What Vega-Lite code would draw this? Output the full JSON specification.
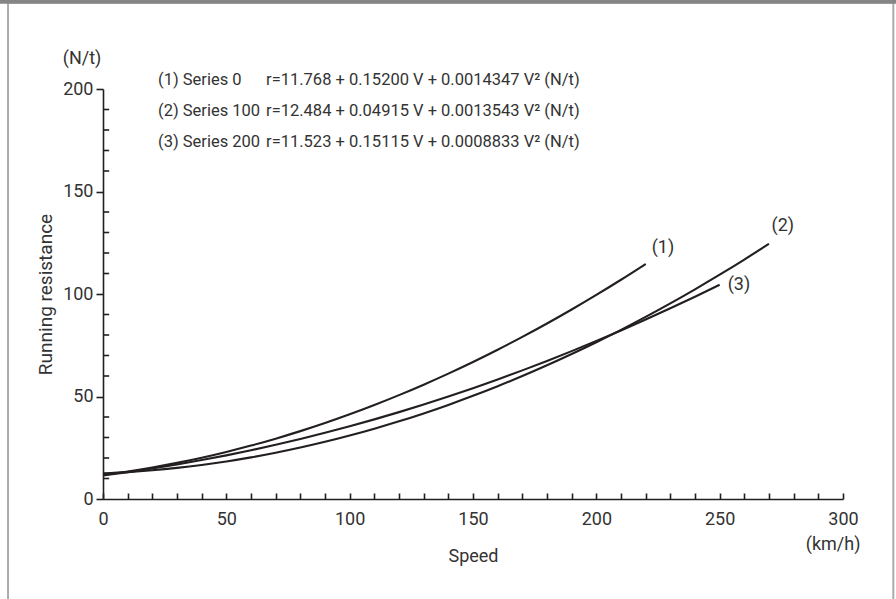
{
  "$schema": "https://vega.github.io/schema/vega-lite/v6.json",
  "width": 740,
  "height": 410,
  "autosize": {"type": "none"},
  "padding": {"left": 103, "top": 89, "right": 53, "bottom": 100},
  "background": "white",
  "config": {
    "view": {"stroke": null},
    "font": "Roboto",
    "axis": {
      "labelFont": "Roboto",
      "titleFont": "Roboto",
      "labelFontSize": 18,
      "titleFontSize": 18,
      "labelColor": "#333333",
      "titleColor": "#333333",
      "titleFontWeight": "normal",
      "domainColor": "#231f20",
      "domainWidth": 1.6,
      "tickColor": "#231f20",
      "tickWidth": 1.6,
      "grid": false
    },
    "text": {"font": "Roboto", "color": "#333333"}
  },
  "datasets": {
    "curves": [
      {"series": "1", "V": 0, "r": 11.768}, {"series": "1", "V": 10, "r": 13.431}, {"series": "1", "V": 20, "r": 15.382}, {"series": "1", "V": 30, "r": 17.619}, {"series": "1", "V": 40, "r": 20.144}, {"series": "1", "V": 50, "r": 22.955}, {"series": "1", "V": 60, "r": 26.053}, {"series": "1", "V": 70, "r": 29.438}, {"series": "1", "V": 80, "r": 33.110}, {"series": "1", "V": 90, "r": 37.069}, {"series": "1", "V": 100, "r": 41.315}, {"series": "1", "V": 110, "r": 45.848}, {"series": "1", "V": 120, "r": 50.668}, {"series": "1", "V": 130, "r": 55.774}, {"series": "1", "V": 140, "r": 61.168}, {"series": "1", "V": 150, "r": 66.849}, {"series": "1", "V": 160, "r": 72.816}, {"series": "1", "V": 170, "r": 79.071}, {"series": "1", "V": 180, "r": 85.612}, {"series": "1", "V": 190, "r": 92.441}, {"series": "1", "V": 200, "r": 99.556}, {"series": "1", "V": 210, "r": 106.958}, {"series": "1", "V": 220, "r": 114.648},
      {"series": "2", "V": 0, "r": 12.484}, {"series": "2", "V": 10, "r": 13.111}, {"series": "2", "V": 20, "r": 14.009}, {"series": "2", "V": 30, "r": 15.177}, {"series": "2", "V": 40, "r": 16.617}, {"series": "2", "V": 50, "r": 18.327}, {"series": "2", "V": 60, "r": 20.308}, {"series": "2", "V": 70, "r": 22.561}, {"series": "2", "V": 80, "r": 25.084}, {"series": "2", "V": 90, "r": 27.877}, {"series": "2", "V": 100, "r": 30.942}, {"series": "2", "V": 110, "r": 34.278}, {"series": "2", "V": 120, "r": 37.884}, {"series": "2", "V": 130, "r": 41.762}, {"series": "2", "V": 140, "r": 45.909}, {"series": "2", "V": 150, "r": 50.328}, {"series": "2", "V": 160, "r": 55.018}, {"series": "2", "V": 170, "r": 59.979}, {"series": "2", "V": 180, "r": 65.210}, {"series": "2", "V": 190, "r": 70.712}, {"series": "2", "V": 200, "r": 76.486}, {"series": "2", "V": 210, "r": 82.530}, {"series": "2", "V": 220, "r": 88.846}, {"series": "2", "V": 230, "r": 95.431}, {"series": "2", "V": 240, "r": 102.288}, {"series": "2", "V": 250, "r": 109.415}, {"series": "2", "V": 260, "r": 116.814}, {"series": "2", "V": 270, "r": 124.483},
      {"series": "3", "V": 0, "r": 11.523}, {"series": "3", "V": 10, "r": 13.123}, {"series": "3", "V": 20, "r": 14.899}, {"series": "3", "V": 30, "r": 16.853}, {"series": "3", "V": 40, "r": 18.982}, {"series": "3", "V": 50, "r": 21.289}, {"series": "3", "V": 60, "r": 23.772}, {"series": "3", "V": 70, "r": 26.432}, {"series": "3", "V": 80, "r": 29.268}, {"series": "3", "V": 90, "r": 32.281}, {"series": "3", "V": 100, "r": 35.471}, {"series": "3", "V": 110, "r": 38.838}, {"series": "3", "V": 120, "r": 42.381}, {"series": "3", "V": 130, "r": 46.101}, {"series": "3", "V": 140, "r": 49.997}, {"series": "3", "V": 150, "r": 54.070}, {"series": "3", "V": 160, "r": 58.319}, {"series": "3", "V": 170, "r": 62.745}, {"series": "3", "V": 180, "r": 67.349}, {"series": "3", "V": 190, "r": 72.128}, {"series": "3", "V": 200, "r": 77.085}, {"series": "3", "V": 210, "r": 82.219}, {"series": "3", "V": 220, "r": 87.528}, {"series": "3", "V": 230, "r": 93.015}, {"series": "3", "V": 240, "r": 98.677}, {"series": "3", "V": 250, "r": 104.517}
    ],
    "curveLabels": [
      {"label": "(1)", "V": 227, "r": 122.4},
      {"label": "(2)", "V": 275.6, "r": 133.2},
      {"label": "(3)", "V": 257.8, "r": 104.4}
    ],
    "legend": [
      {"name": "(1) Series 0", "formula": "r=11.768 + 0.15200 V + 0.0014347 V² (N/t)", "V": 22.3, "V2": 66.1, "r": 204.4},
      {"name": "(2) Series 100", "formula": "r=12.484 + 0.04915 V + 0.0013543 V² (N/t)", "V": 22.3, "V2": 66.1, "r": 189.3},
      {"name": "(3) Series 200", "formula": "r=11.523 + 0.15115 V + 0.0008833 V² (N/t)", "V": 22.3, "V2": 66.1, "r": 174.1}
    ],
    "units": [
      {"text": "(N/t)", "V": -8.5, "r": 214.5},
      {"text": "(km/h)", "V": 296, "r": -22.4}
    ],
    "yminor": [
      {"r": 10}, {"r": 20}, {"r": 30}, {"r": 40}, {"r": 60}, {"r": 70}, {"r": 80}, {"r": 90},
      {"r": 110}, {"r": 120}, {"r": 130}, {"r": 140}, {"r": 160}, {"r": 170}, {"r": 180}, {"r": 190}
    ],
    "frame": [
      {"V": -38.5, "V2": 320.4, "r": -60, "r2": 242.2}
    ],
    "topbar": [
      {"V": -50, "V2": 330, "r": 241.6, "r2": 246}
    ]
  },
  "layer": [
    {
      "data": {"name": "curves"},
      "mark": {"type": "line", "color": "#231f20", "strokeWidth": 2.1, "interpolate": "monotone"},
      "encoding": {
        "x": {
          "field": "V", "type": "quantitative",
          "scale": {"domain": [0, 300], "nice": false, "zero": false},
          "axis": {
            "title": "Speed",
            "values": [0,10,20,30,40,50,60,70,80,90,100,110,120,130,140,150,160,170,180,190,200,210,220,230,240,250,260,270,280,290,300],
            "tickCount": 40,
            "labelExpr": "datum.value % 50 === 0 ? datum.label : ''",
            "tickSize": -6,
            "labelPadding": 17,
            "titlePadding": 19,
            "labelFlush": false,
            "labelOverlap": false
          }
        },
        "y": {
          "field": "r", "type": "quantitative",
          "scale": {"domain": [0, 200], "nice": false, "zero": false},
          "axis": {
            "title": "Running resistance",
            "titleFontSize": 19,
            "values": [0, 50, 100, 150, 200],
            "tickCount": 10,
            "tickSize": 7,
            "labelPadding": 3,
            "titlePadding": 7,
            "labelFlush": false,
            "labelOverlap": false
          }
        },
        "detail": {"field": "series", "type": "nominal"}
      }
    },
    {
      "data": {"name": "frame"},
      "mark": {"type": "rect", "fill": null, "stroke": "#ababab", "strokeWidth": 2, "clip": false},
      "encoding": {
        "x": {"field": "V", "type": "quantitative"},
        "x2": {"field": "V2"},
        "y": {"field": "r", "type": "quantitative"},
        "y2": {"field": "r2"}
      }
    },
    {
      "data": {"name": "topbar"},
      "mark": {"type": "rect", "fill": "#858585", "clip": false},
      "encoding": {
        "x": {"field": "V", "type": "quantitative"},
        "x2": {"field": "V2"},
        "y": {"field": "r", "type": "quantitative"},
        "y2": {"field": "r2"}
      }
    },
    {
      "data": {"name": "yminor"},
      "mark": {"type": "rule", "color": "#231f20", "strokeWidth": 1.6},
      "encoding": {
        "x": {"datum": 0, "type": "quantitative"},
        "x2": {"datum": 2.5},
        "y": {"field": "r", "type": "quantitative"}
      }
    },
    {
      "data": {"name": "curveLabels"},
      "mark": {"type": "text", "fontSize": 18, "align": "center", "baseline": "middle", "clip": false},
      "encoding": {
        "x": {"field": "V", "type": "quantitative"},
        "y": {"field": "r", "type": "quantitative"},
        "text": {"field": "label"}
      }
    },
    {
      "data": {"name": "legend"},
      "mark": {"type": "text", "fontSize": 16.5, "align": "left", "baseline": "middle", "clip": false},
      "encoding": {
        "x": {"field": "V", "type": "quantitative"},
        "y": {"field": "r", "type": "quantitative"},
        "text": {"field": "name"}
      }
    },
    {
      "data": {"name": "legend"},
      "mark": {"type": "text", "fontSize": 16.5, "align": "left", "baseline": "middle", "clip": false},
      "encoding": {
        "x": {"field": "V2", "type": "quantitative"},
        "y": {"field": "r", "type": "quantitative"},
        "text": {"field": "formula"}
      }
    },
    {
      "data": {"name": "units"},
      "mark": {"type": "text", "fontSize": 18, "align": "center", "baseline": "middle", "clip": false},
      "encoding": {
        "x": {"field": "V", "type": "quantitative"},
        "y": {"field": "r", "type": "quantitative"},
        "text": {"field": "text"}
      }
    }
  ]
}
